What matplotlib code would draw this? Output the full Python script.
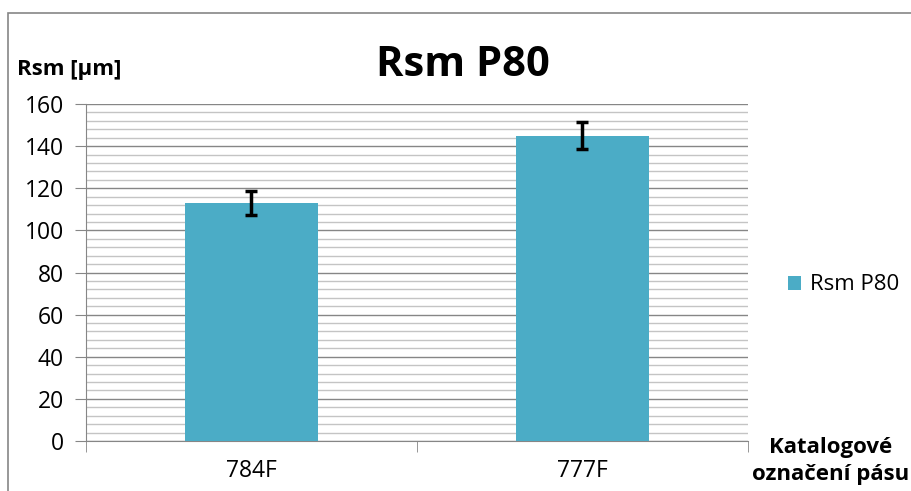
import matplotlib
matplotlib.use("Agg")
import matplotlib.pyplot as plt
from matplotlib.patches import Rectangle
from matplotlib.ticker import MultipleLocator

categories = ["784F", "777F"]
values = [113, 145]
errors = [5.8, 6.3]
series_name = "Rsm P80"
y_ticks = [0, 20, 40, 60, 80, 100, 120, 140, 160]

plt.rcParams["font.family"] = ["Open Sans", "DejaVu Sans"]

fig = plt.figure(figsize=(9.12, 4.91), dpi=100)
fig.patch.set_facecolor("white")

# chart-area frame
fig.patches.append(Rectangle((8 / 912, -0.01), 1.0, 1 - 13 / 491 + 0.01,
                             transform=fig.transFigure, fill=False,
                             edgecolor="#868686", linewidth=1.2))

ax = fig.add_axes([86 / 912, 50 / 491, 662 / 912, 337 / 491])
x = list(range(len(categories)))
ax.bar(x, values, width=0.4, color="#4BACC6", label=series_name, zorder=3)
ax.errorbar(x, values, yerr=errors, fmt="none", ecolor="black",
            elinewidth=2.5, capsize=4.5, capthick=2.5, zorder=4)

ax.set_xlim(-0.5, len(categories) - 0.5)
ax.set_ylim(0, 160)
ax.set_yticks(y_ticks)
ax.yaxis.set_minor_locator(MultipleLocator(4))
ax.grid(which="major", axis="y", color="#868686", linewidth=1.0, zorder=0)
ax.grid(which="minor", axis="y", color="#c4c4c4", linewidth=1.0, zorder=0)
ax.set_axisbelow(True)

for s in ["top", "right"]:
    ax.spines[s].set_visible(False)
ax.spines["left"].set_color("#868686")
ax.spines["bottom"].set_color("#868686")

ax.set_xticks(x)
ax.set_xticklabels(categories, fontsize=16.5)
ax.set_xticks([-0.5, 0.5, 1.5], minor=True)
ax.tick_params(axis="x", which="major", length=0, pad=13)
ax.tick_params(axis="x", which="minor", length=8, color="#868686")
ax.tick_params(axis="y", which="major", length=8, color="#868686",
               labelsize=16.5, pad=8)
ax.tick_params(axis="y", which="minor", length=0)

fig.text(463 / 912, 1 - 66 / 491, "Rsm P80", fontsize=30, fontweight="bold",
         ha="center", va="center")
fig.text(17 / 912, 1 - 69 / 491, "Rsm [µm]", fontsize=16,
         fontweight="bold", ha="left", va="center")
fig.text(831 / 912, 1 - 461 / 491, "Katalogové\noznačení pásu",
         fontsize=16, fontweight="bold", ha="center", va="center",
         linespacing=1.4)

ax.legend(loc="center left", bbox_to_anchor=(788 / 912, 1 - 285 / 491),
          bbox_transform=fig.transFigure, frameon=False, fontsize=16,
          handlelength=0.6, handleheight=0.6, handletextpad=0.4,
          borderpad=0, borderaxespad=0)

fig.savefig("out.png", dpi=100)
